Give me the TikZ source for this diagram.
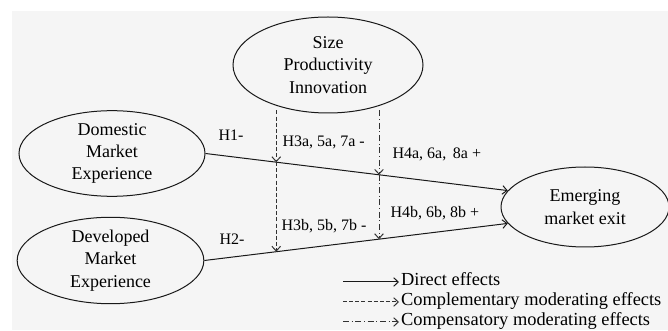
\documentclass[tikz,border=0pt]{standalone}
\usepackage{fontspec}
\setmainfont{Liberation Serif}
\usetikzlibrary{shapes.geometric,arrows.meta,calc}

\definecolor{bggray}{RGB}{245,245,245}
\definecolor{lnk}{RGB}{25,25,25}
\definecolor{dsh}{RGB}{50,50,50}

\tikzset{every picture/.style={line width=0.75pt}}

\begin{document}
\begin{tikzpicture}[x=0.75pt,y=0.75pt,yscale=-1,xscale=1,
    construct/.style={draw=lnk, ellipse, inner sep=0pt, align=center, font=\fontsize{13.5}{16.8}\selectfont},
    hyp/.style={anchor=west, inner sep=0.75pt, font=\fontsize{12}{14}\selectfont, text height=8.5pt, text depth=2.5pt},
    legtext/.style={anchor=west, inner sep=1.2pt, font=\fontsize{13.8}{16}\selectfont, text height=9pt, text depth=3pt},
    direct/.style={draw=lnk, -{Straight Barb[length=3.5pt,width=6.5pt]}},
    compl/.style={direct, draw=dsh, dash pattern=on 3pt off 1.6pt},
    compen/.style={direct, draw=dsh, dash pattern=on 4.5pt off 2pt on 0.75pt off 2pt}]
        \useasboundingbox (0,0) rectangle (668,331);
        %Background
        \fill [bggray] (12,11) rectangle (668,330.5);
        %Ellipses
        \node [construct, minimum width=142.5pt, minimum height=72pt] (siz) at (328,65) {Size\\Productivity\\Innovation};
        \node [construct, minimum width=139.5pt, minimum height=62.5pt] (dom) at (112,153.5) {Domestic\\Market\\Experience};
        \node [construct, minimum width=140pt, minimum height=63.5pt] (dev) at (110.5,260.5) {Developed\\Market\\Experience};
        \node [construct, minimum width=126pt, minimum height=60pt] (emg) at (585,207) {Emerging\\market exit};
        %Direct effects
        \draw [direct] (dom.east) -- coordinate[pos=0.234] (a1) coordinate[pos=0.574] (b1) (emg.168);
        \draw [direct] (dev.east) -- coordinate[pos=0.237] (a2) coordinate[pos=0.575] (b2) (emg.192);
        %Moderating effects
        \coordinate (ta) at ($(a1 |- siz.south)+(0,-3)$);
        \coordinate (tb) at ($(b1 |- siz.south)+(0,-3)$);
        \draw [compl] (ta) -- (a1);
        \draw [compl] (a1) -- (a1 |- a2);
        \draw [compen] (tb) -- (b1);
        \draw [compen] (b1) -- (b1 |- b2);
        % Text Node
        \node [hyp] (h1) at (217,137) {H1-};
        \node [hyp] (h3a) at (281,143) {H3a, 5a, 7a -};
        \node [hyp] (h4a) at (391,155) {H4a, 6a, \,8a +};
        \node [hyp] (h2) at (218,241) {H2-};
        \node [hyp] (h3b) at (280,227) {H3b, 5b, 7b -};
        \node [hyp] (h4b) at (389,214) {H4b, 6b, 8b +};
        %Legend
        \node [legtext] (lg1) at (399,282) {Direct effects};
        \node [legtext] (lg2) at (399,302) {Complementary moderating effects};
        \node [legtext] (lg3) at (399,322) {Compensatory moderating effects};
        \coordinate (l1) at (343,282);
        \coordinate (l2) at (343,302);
        \coordinate (l3) at (343,322);
        \draw [direct] (l1) -- (lg1.west);
        \draw [compl] (l2) -- (lg2.west);
        \draw [compen] (l3) -- (lg3.west);
\end{tikzpicture}
\end{document}
